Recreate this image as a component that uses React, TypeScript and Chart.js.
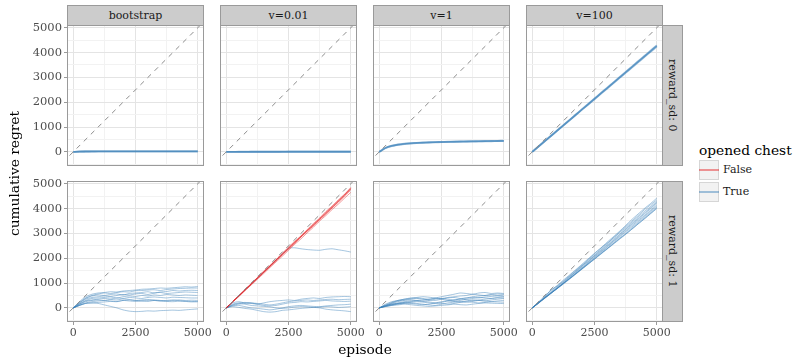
import React, { useEffect, useRef } from 'react';
import { Chart, registerables } from 'chart.js';

Chart.register(...registerables);

const FONT = 'DejaVu Serif';
Chart.defaults.font.family = FONT;

// ---------- data ----------
const EPISODES = [0, 250, 500, 750, 1000, 1250, 1500, 1750, 2000, 2250, 2500, 2750, 3000, 3250, 3500, 3750, 4000, 4250, 4500, 4750, 5000];
const DIAGONAL = [-1000, 6000];

const X_MAJOR_TICKS = [0, 2500, 5000];
const X_MINOR_TICKS = [1250, 3750];
const Y_MAJOR_TICKS = [0, 1000, 2000, 3000, 4000, 5000];
const Y_MINOR_TICKS = [-500, 500, 1500, 2500, 3500, 4500];
const X_RANGE = [-250, 5250];
const Y_RANGE = [-568, 5110];

const COLUMN_LABELS = ['bootstrap', 'v=0.01', 'v=1', 'v=100'];
const ROW_LABELS = ['reward_sd: 0', 'reward_sd: 1'];
const LEGEND_TITLE = 'opened chest';
const LEGEND_LABELS = ['False', 'True'];
const X_TITLE = 'episode';
const Y_TITLE = 'cumulative regret';

// reward_sd: 0
const BOOT_SD0_TRUE = [
  [0, 14, 16, 17, 18, 18, 19, 19, 19, 20, 20, 20, 20, 21, 21, 21, 21, 21, 22, 22, 22],
  [0, 12, 15, 16, 17, 17, 18, 18, 18, 19, 19, 19, 19, 20, 20, 20, 20, 20, 20, 21, 21],
  [0, 15, 17, 18, 19, 19, 20, 20, 21, 21, 21, 22, 22, 22, 22, 23, 23, 23, 23, 23, 24],
];
const V001_SD0_TRUE = [
  [0, 3, 4, 4, 5, 5, 5, 5, 5, 6, 6, 6, 6, 6, 6, 6, 6, 6, 6, 6, 6],
  [0, 2, 3, 3, 4, 4, 4, 4, 4, 4, 5, 5, 5, 5, 5, 5, 5, 5, 5, 5, 5],
  [0, 4, 5, 5, 6, 6, 6, 6, 6, 7, 7, 7, 7, 7, 7, 7, 7, 7, 7, 7, 7],
];
const V1_SD0_TRUE = [
  [0, 155, 240, 290, 322, 344, 360, 372, 382, 390, 397, 403, 409, 414, 419, 423, 427, 431, 435, 439, 443],
  [0, 145, 230, 280, 314, 336, 353, 366, 376, 384, 391, 397, 403, 408, 413, 417, 421, 425, 429, 433, 437],
  [0, 165, 248, 298, 330, 351, 367, 379, 389, 397, 404, 410, 416, 421, 426, 430, 434, 438, 442, 446, 450],
];
const V100_SD0_TRUE = [
  [0, 215, 430, 640, 855, 1070, 1280, 1495, 1710, 1920, 2135, 2350, 2560, 2775, 2990, 3200, 3415, 3630, 3840, 4055, 4270],
  [0, 210, 425, 635, 850, 1060, 1275, 1485, 1700, 1910, 2120, 2335, 2545, 2760, 2970, 3180, 3395, 3605, 3820, 4030, 4240],
  [0, 218, 435, 650, 862, 1078, 1290, 1505, 1720, 1935, 2150, 2365, 2578, 2792, 3005, 3220, 3435, 3650, 3862, 4076, 4290],
];

// reward_sd: 1
const BOOT_SD1_TRUE = [
  [0, 250, 450, 550, 600, 620, 650, 640, 680, 700, 720, 750, 760, 780, 800, 790, 810, 830, 850, 840, 860],
  [0, 220, 400, 500, 560, 600, 580, 620, 650, 640, 690, 700, 720, 730, 700, 740, 760, 780, 790, 800, 800],
  [0, 200, 380, 480, 520, 500, 540, 560, 520, 580, 600, 620, 650, 600, 640, 660, 700, 680, 700, 710, 700],
  [0, 180, 350, 420, 450, 480, 460, 500, 540, 520, 560, 580, 540, 600, 620, 580, 600, 620, 640, 630, 620],
  [0, 150, 300, 380, 400, 420, 440, 400, 450, 480, 460, 500, 480, 520, 500, 540, 520, 500, 520, 510, 500],
  [0, 150, 280, 320, 350, 380, 360, 400, 380, 420, 400, 380, 420, 440, 420, 400, 430, 420, 410, 400, 400],
  [0, 120, 250, 300, 320, 300, 340, 320, 360, 340, 300, 320, 340, 300, 280, 300, 320, 290, 270, 260, 250],
  [0, 100, 200, 250, 280, 300, 280, 260, 300, 320, 300, 280, 260, 300, 280, 260, 250, 270, 260, 240, 250],
  [0, 100, 180, 200, 220, 240, 260, 250, 300, 280, 260, 280, 300, 320, 300, 280, 300, 320, 300, 310, 300],
  [0, 100, 180, 200, 180, 120, 60, 0, -80, -130, -150, -140, -120, -130, -110, -100, -90, -100, -80, -60, -40],
];
const V001_SD1_FALSE = [
  [0, 250, 500, 730, 980, 1220, 1480, 1700, 1950, 2200, 2450, 2680, 2900, 3150, 3400, 3620, 3880, 4100, 4350, 4580, 4820],
  [0, 240, 470, 700, 950, 1180, 1420, 1650, 1900, 2130, 2370, 2600, 2850, 3080, 3320, 3550, 3800, 4030, 4270, 4500, 4750],
  [0, 230, 450, 690, 920, 1150, 1380, 1620, 1850, 2080, 2320, 2560, 2780, 3020, 3250, 3500, 3720, 3960, 4180, 4420, 4650],
  [0, 250, 480, 710, 940, 1200, 1430, 1660, 1920, 2150, 2380, 2620, 2860, 3100, 3300, 3560, 3780, 4020, 4260, 4520, 4780],
  [0, 235, 460, 720, 960, 1190, 1440, 1680, 1910, 2160, 2400, 2640, 2870, 3110, 3350, 3580, 3830, 4060, 4300, 4540, 4800],
  [0, 245, 490, 735, 970, 1210, 1450, 1690, 1930, 2170, 2420, 2650, 2890, 3130, 3360, 3600, 3840, 4080, 4320, 4560, 4850],
];
const V001_SD1_TRUE = [
  [0, 240, 480, 720, 960, 1200, 1440, 1680, 1920, 2160, 2400, 2420, 2380, 2350, 2330, 2320, 2360, 2380, 2340, 2300, 2250],
  [0, 200, 250, 200, 180, 150, 200, 250, 280, 300, 320, 300, 350, 380, 400, 380, 420, 440, 450, 460, 450],
  [0, 150, 200, 220, 200, 180, 150, 120, 150, 200, 250, 280, 300, 320, 300, 320, 340, 350, 330, 340, 350],
  [0, 100, 150, 180, 200, 150, 100, 80, 100, 150, 200, 220, 250, 240, 260, 280, 300, 280, 270, 260, 270],
  [0, 80, 100, 50, 0, -20, -50, -80, -50, 0, 50, 80, 100, 80, 60, 50, 80, 100, 120, 130, 150],
  [0, 50, 20, -20, -50, -100, -150, -170, -150, -100, -80, -50, -20, 0, 20, 0, -50, -80, -100, -120, -150],
  [0, 120, 180, 150, 100, 80, 60, 40, 0, -20, 0, 30, 50, 40, 20, 30, 50, 40, 20, 30, 50],
];
const V1_SD1_TRUE = [
  [0, 150, 250, 300, 350, 380, 400, 380, 350, 400, 450, 500, 550, 600, 580, 550, 600, 620, 580, 600, 580],
  [0, 120, 220, 300, 350, 400, 420, 450, 430, 400, 380, 420, 450, 480, 500, 550, 520, 500, 540, 560, 550],
  [0, 100, 200, 280, 320, 350, 380, 350, 320, 300, 350, 400, 420, 380, 400, 450, 480, 500, 520, 500, 520],
  [0, 80, 180, 250, 300, 320, 300, 280, 300, 350, 380, 350, 320, 360, 400, 420, 400, 440, 460, 480, 470],
  [0, 100, 150, 200, 250, 280, 300, 320, 350, 380, 350, 300, 280, 300, 350, 380, 420, 400, 380, 420, 450],
  [0, 80, 150, 180, 200, 220, 250, 230, 200, 180, 220, 280, 320, 350, 330, 300, 320, 350, 380, 400, 400],
  [0, 60, 120, 160, 200, 180, 150, 130, 150, 200, 250, 280, 260, 240, 280, 320, 300, 280, 320, 350, 380],
  [0, 50, 100, 150, 180, 200, 180, 150, 120, 100, 150, 200, 230, 250, 230, 260, 300, 280, 250, 240, 230],
  [0, 70, 130, 180, 220, 250, 280, 260, 240, 200, 180, 150, 180, 220, 250, 230, 200, 220, 250, 280, 300],
  [0, 60, 100, 120, 150, 130, 100, 80, 60, 80, 100, 120, 150, 130, 120, 150, 180, 200, 190, 180, 175],
];
const V100_SD1_TRUE = [
  [0, 230, 480, 700, 900, 1120, 1330, 1540, 1760, 1980, 2200, 2410, 2640, 2860, 3080, 3320, 3560, 3780, 4000, 4200, 4420],
  [0, 210, 450, 720, 880, 1080, 1300, 1520, 1720, 1950, 2180, 2400, 2600, 2820, 3050, 3280, 3500, 3720, 3950, 4150, 4350],
  [0, 200, 420, 650, 850, 1060, 1270, 1480, 1700, 1920, 2130, 2350, 2580, 2800, 3020, 3230, 3450, 3670, 3880, 4080, 4300],
  [0, 220, 400, 600, 820, 1020, 1250, 1460, 1680, 1880, 2100, 2320, 2530, 2750, 2960, 3180, 3400, 3610, 3820, 4030, 4250],
  [0, 190, 430, 620, 800, 1000, 1230, 1440, 1640, 1860, 2080, 2280, 2500, 2700, 2930, 3150, 3360, 3570, 3780, 3990, 4220],
  [0, 200, 400, 590, 780, 980, 1190, 1400, 1610, 1820, 2040, 2250, 2460, 2680, 2890, 3100, 3310, 3520, 3720, 3930, 4150],
  [0, 210, 380, 580, 790, 990, 1180, 1380, 1590, 1800, 2010, 2220, 2430, 2640, 2850, 3060, 3260, 3470, 3680, 3890, 4100],
  [0, 180, 390, 580, 770, 960, 1160, 1360, 1560, 1760, 1970, 2180, 2380, 2590, 2800, 3000, 3210, 3420, 3630, 3840, 4050],
  [0, 190, 390, 590, 780, 980, 1170, 1370, 1570, 1770, 1960, 2160, 2360, 2560, 2760, 2960, 3170, 3380, 3590, 3800, 4020],
  [0, 200, 400, 600, 790, 990, 1190, 1390, 1580, 1780, 1980, 2180, 2380, 2580, 2780, 2970, 3170, 3380, 3580, 3790, 4000],
];

const PANELS = [
  { row: 0, col: 0, red: [] as number[][], blue: BOOT_SD0_TRUE },
  { row: 0, col: 1, red: [] as number[][], blue: V001_SD0_TRUE },
  { row: 0, col: 2, red: [] as number[][], blue: V1_SD0_TRUE },
  { row: 0, col: 3, red: [] as number[][], blue: V100_SD0_TRUE },
  { row: 1, col: 0, red: [] as number[][], blue: BOOT_SD1_TRUE },
  { row: 1, col: 1, red: V001_SD1_FALSE, blue: V001_SD1_TRUE },
  { row: 1, col: 2, red: [] as number[][], blue: V1_SD1_TRUE },
  { row: 1, col: 3, red: [] as number[][], blue: V100_SD1_TRUE },
];

// ---------- styling / layout ----------
const RED = 'rgba(228,26,28,0.45)';
const BLUE = 'rgba(55,126,184,0.45)';
const GRID_MAJOR = '#e4e4e4';
const GRID_MINOR = '#f2f2f2';
const BORDER = '#9a9a9a';
const STRIP_BG = '#cccccc';

const COL_LEFT = [67, 220, 373, 526];
const PANEL_W = 137;
const ROW_TOP = [25, 181];
const PANEL_H = 141;
const PAD = 12;
const Y_AXIS_W = 60;
const X_AXIS_H = 24;

const borderPlugin = {
  id: 'panelBorder',
  afterDraw(chart: any) {
    const { ctx, chartArea: a } = chart;
    ctx.save();
    ctx.strokeStyle = BORDER;
    ctx.lineWidth = 1;
    ctx.strokeRect(Math.round(a.left) + 0.5, Math.round(a.top) + 0.5, Math.round(a.right - a.left) - 1, Math.round(a.bottom - a.top) - 1);
    ctx.restore();
  },
};

function canvasBox(p: { row: number; col: number }) {
  const leftExt = p.col === 0 ? Y_AXIS_W : PAD;
  const bottomExt = p.row === 1 ? X_AXIS_H : PAD;
  return {
    left: COL_LEFT[p.col] - leftExt,
    top: ROW_TOP[p.row] - PAD,
    width: leftExt + PANEL_W + PAD,
    height: PAD + PANEL_H + bottomExt,
  };
}

function series(arr: number[]) {
  return EPISODES.map((x, i) => ({ x, y: arr[i] }));
}

function makeChart(canvas: HTMLCanvasElement, p: (typeof PANELS)[number]) {
  const showY = p.col === 0;
  const showX = p.row === 1;
  const width = p.row === 0 ? 1.8 : 1;
  const lineDs = (arr: number[], color: string) => ({
    data: series(arr),
    borderColor: color,
    borderWidth: width,
    pointRadius: 0,
    tension: 0.2,
  });
  const datasets: any[] = [
    {
      data: DIAGONAL.map((v) => ({ x: v, y: v })),
      borderColor: '#8c8c8c',
      borderWidth: 1,
      borderDash: [5, 5],
      pointRadius: 0,
    },
    ...p.red.map((a) => lineDs(a, RED)),
    ...p.blue.map((a) => lineDs(a, BLUE)),
  ];
  const xTicks = [...X_MAJOR_TICKS, ...X_MINOR_TICKS].sort((a, b) => a - b);
  const yTicks = [...Y_MAJOR_TICKS, ...Y_MINOR_TICKS].sort((a, b) => a - b);
  return new Chart(canvas, {
    type: 'line',
    data: { datasets },
    options: {
      animation: false,
      responsive: false,
      devicePixelRatio: 1,
      events: [],
      layout: {
        autoPadding: false,
        padding: { left: showY ? 0 : PAD, right: PAD, top: PAD, bottom: showX ? 0 : PAD },
      },
      plugins: { legend: { display: false }, tooltip: { enabled: false } },
      scales: {
        x: {
          type: 'linear',
          min: X_RANGE[0],
          max: X_RANGE[1],
          afterBuildTicks: (s: any) => {
            s.ticks = xTicks.map((v) => ({ value: v }));
          },
          afterFit: (s: any) => {
            s.height = showX ? X_AXIS_H : 0;
          },
          border: { display: false },
          grid: {
            color: (c: any) => (X_MAJOR_TICKS.includes(c.tick?.value) ? GRID_MAJOR : GRID_MINOR),
            lineWidth: 1,
            drawTicks: showX,
            tickLength: 3,
            tickColor: (c: any) => (X_MAJOR_TICKS.includes(c.tick?.value) ? BORDER : 'rgba(0,0,0,0)'),
          },
          ticks: {
            display: showX,
            autoSkip: false,
            maxRotation: 0,
            padding: 2,
            color: '#4d4d4d',
            font: { family: FONT, size: 11 },
            callback: (v: any) => (X_MAJOR_TICKS.includes(v) ? String(v) : ''),
          },
        },
        y: {
          type: 'linear',
          min: Y_RANGE[0],
          max: Y_RANGE[1],
          afterBuildTicks: (s: any) => {
            s.ticks = yTicks.map((v) => ({ value: v }));
          },
          afterFit: (s: any) => {
            s.width = showY ? Y_AXIS_W : 0;
          },
          border: { display: false },
          grid: {
            color: (c: any) => (Y_MAJOR_TICKS.includes(c.tick?.value) ? GRID_MAJOR : GRID_MINOR),
            lineWidth: 1,
            drawTicks: showY,
            tickLength: 3,
            tickColor: (c: any) => (Y_MAJOR_TICKS.includes(c.tick?.value) ? BORDER : 'rgba(0,0,0,0)'),
          },
          ticks: {
            display: showY,
            autoSkip: false,
            padding: 2,
            color: '#4d4d4d',
            font: { family: FONT, size: 11.5 },
            callback: (v: any) => (Y_MAJOR_TICKS.includes(v) ? String(v) : ''),
          },
        },
      },
    } as any,
    plugins: [borderPlugin],
  });
}

export default function App() {
  const refs = useRef<(HTMLCanvasElement | null)[]>([]);
  useEffect(() => {
    const charts = PANELS.map((p, i) => makeChart(refs.current[i] as HTMLCanvasElement, p));
    return () => charts.forEach((c) => c.destroy());
  }, []);

  const textBase: React.CSSProperties = { position: 'absolute', fontFamily: `'${FONT}', serif`, whiteSpace: 'nowrap' };

  return (
    <div style={{ position: 'absolute', left: 0, top: 0, width: 796, height: 360, background: '#fff', overflow: 'hidden' }}>
      {COLUMN_LABELS.map((t, c) => (
        <div
          key={'cs' + c}
          style={{
            ...textBase,
            left: COL_LEFT[c],
            top: 5,
            width: PANEL_W,
            height: 21,
            boxSizing: 'border-box',
            background: STRIP_BG,
            border: `1px solid ${BORDER}`,
            fontSize: 11,
            lineHeight: '19px',
            textAlign: 'center',
            color: '#1a1a1a',
          }}
        >
          {t}
        </div>
      ))}
      {ROW_LABELS.map((t, r) => (
        <div
          key={'rs' + r}
          style={{
            ...textBase,
            left: COL_LEFT[3] + PANEL_W - 1,
            top: ROW_TOP[r],
            width: 21,
            height: PANEL_H,
            boxSizing: 'border-box',
            background: STRIP_BG,
            border: `1px solid ${BORDER}`,
            fontSize: 11,
            lineHeight: '19px',
            writingMode: 'vertical-rl',
            textAlign: 'center',
            color: '#1a1a1a',
          }}
        >
          {t}
        </div>
      ))}
      {PANELS.map((p, i) => {
        const b = canvasBox(p);
        return (
          <canvas
            key={'c' + i}
            ref={(el) => {
              refs.current[i] = el;
            }}
            width={b.width}
            height={b.height}
            style={{ position: 'absolute', left: b.left, top: b.top, width: b.width, height: b.height }}
          />
        );
      })}
      <div
        style={{
          ...textBase,
          left: 365 - 100,
          top: 349 - 9,
          width: 200,
          fontSize: 13.75,
          lineHeight: '18px',
          textAlign: 'center',
          color: '#000',
        }}
      >
        {X_TITLE}
      </div>
      <div
        style={{
          ...textBase,
          left: 14 - 9,
          top: 174 - 100,
          height: 200,
          width: 18,
          fontSize: 13.75,
          lineHeight: '18px',
          writingMode: 'vertical-rl',
          transform: 'rotate(180deg)',
          textAlign: 'center',
          color: '#000',
        }}
      >
        {Y_TITLE}
      </div>
      <div style={{ ...textBase, left: 699, top: 141, fontSize: 13.75, lineHeight: '18px', color: '#000' }}>{LEGEND_TITLE}</div>
      {LEGEND_LABELS.map((t, i) => {
        const top = 160 + i * 22;
        return (
          <React.Fragment key={'lg' + i}>
            <div
              style={{
                position: 'absolute',
                left: 699,
                top,
                width: 20,
                height: 20,
                boxSizing: 'border-box',
                background: '#f2f2f2',
                border: '1px solid #d6d6d6',
              }}
            >
              <div style={{ position: 'absolute', left: -1, right: -1, top: 8, height: 2, background: i === 0 ? RED : BLUE }} />
            </div>
            <div style={{ ...textBase, left: 723, top: top + 10 - 8, fontSize: 11, lineHeight: '16px', color: '#1a1a1a' }}>{t}</div>
          </React.Fragment>
        );
      })}
    </div>
  );
}
